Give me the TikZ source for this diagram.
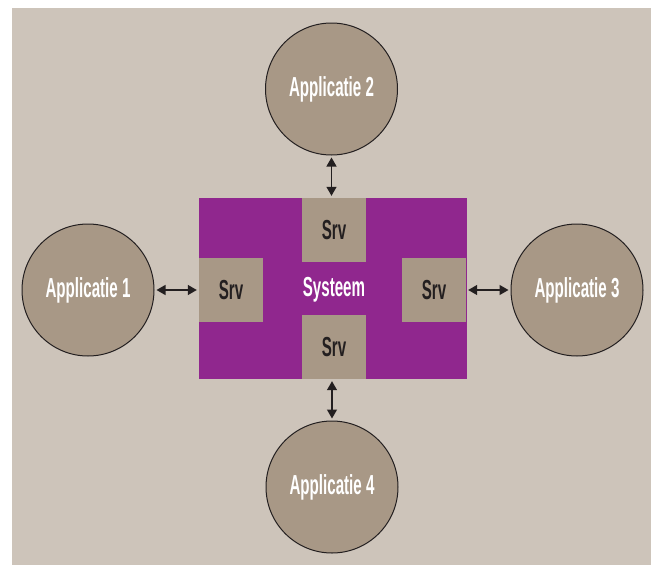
\documentclass[tikz,border=0pt]{standalone}
\usepackage{fontspec}
\setmainfont{Liberation Sans}
\usetikzlibrary{arrows.meta}
\definecolor{bgbeige}{HTML}{CDC4BA}
\definecolor{taupe}{HTML}{A89886}
\definecolor{sysviolet}{HTML}{90278E}
\definecolor{inkdark}{HTML}{231F20}
\newcommand{\cond}[1]{\scalebox{0.55}[1]{#1}}
\tikzset{
  app/.style={circle, draw=inkdark, line width=1pt, fill=taupe, minimum size=132pt,
    inner sep=0pt, text=white, font=\fontsize{27.5}{27.5}\selectfont\bfseries},
  srvbox/.style={rectangle, fill=taupe, minimum width=64pt, minimum height=64pt,
    inner sep=0pt, text=inkdark, font=\fontsize{27.5}{27.5}\selectfont\bfseries},
  link/.style={{Triangle[length=9pt,width=10pt]}-{Triangle[length=9pt,width=10pt]},
    draw=inkdark, line width=1.3pt, fill=inkdark, shorten <=2pt, shorten >=2pt}
}
\begin{document}
\begin{tikzpicture}[x=1pt,y=-1pt]
  \useasboundingbox (0,0) rectangle (651,565);
  \fill[bgbeige] (12,8) rectangle (651,565);

  % central system block
  \node[rectangle, fill=sysviolet, minimum width=268pt, minimum height=181pt, inner sep=0pt]
    (sys) at (333,288.5) {};
  \node[srvbox] (srvT) at (334,230) {\cond{Srv}};
  \node[srvbox] (srvB) at (334,347) {\cond{Srv}};
  \node[srvbox] (srvL) at (231,290) {\cond{Srv}};
  \node[srvbox] (srvR) at (434,290) {\cond{Srv}};
  \node[text=white, font=\fontsize{27.5}{27.5}\selectfont\bfseries] (systxt) at (334,290) {\cond{Systeem}};

  % applications
  \node[app] (app1) at (88,290) {\cond{Applicatie 1}};
  \node[app] (app2) at (331.5,89) {\cond{Applicatie 2}};
  \node[app] (app3) at (577,290) {\cond{Applicatie 3}};
  \node[app] (app4) at (332,487) {\cond{Applicatie 4}};

  % interfaces
  \draw[link] (app1.east) -- (srvL.west);
  \draw[link] (app3.west) -- (srvR.east);
  \draw[link] (app2.south) -- (app2.south |- sys.north);
  \draw[link] (app4.north) -- (app4.north |- sys.south);
\end{tikzpicture}
\end{document}
